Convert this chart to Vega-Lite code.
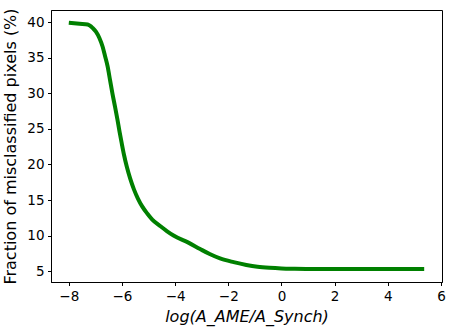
{
  "$schema": "https://vega.github.io/schema/vega-lite/v6.json",
  "width": 391,
  "height": 272,
  "autosize": "none",
  "padding": {"left": 51, "top": 10, "right": 10, "bottom": 53},
  "background": "white",
  "config": {
    "view": {"stroke": "black", "strokeWidth": 1},
    "font": "DejaVu Sans",
    "axis": {
      "grid": false,
      "domainColor": "black",
      "tickColor": "black",
      "tickSize": 3.5,
      "labelPadding": 3.5,
      "labelFont": "DejaVu Sans",
      "labelFontSize": 13.5,
      "labelColor": "black",
      "titleFont": "DejaVu Sans",
      "titleFontSize": 16,
      "titleFontWeight": "normal",
      "titleColor": "black"
    }
  },
  "data": {
    "values": [
      {"x": -8.0, "y": 39.95},
      {"x": -7.6, "y": 39.8},
      {"x": -7.29, "y": 39.7},
      {"x": -7.1, "y": 39.2},
      {"x": -6.98, "y": 38.7},
      {"x": -6.85, "y": 37.8},
      {"x": -6.73, "y": 36.6},
      {"x": -6.64, "y": 35.3},
      {"x": -6.54, "y": 33.8},
      {"x": -6.45, "y": 31.9},
      {"x": -6.36, "y": 30.0},
      {"x": -6.26, "y": 28.1},
      {"x": -6.17, "y": 26.3},
      {"x": -6.09, "y": 24.6},
      {"x": -6.01, "y": 23.0},
      {"x": -5.92, "y": 21.3},
      {"x": -5.82, "y": 19.7},
      {"x": -5.69, "y": 18.0},
      {"x": -5.55, "y": 16.5},
      {"x": -5.4, "y": 15.2},
      {"x": -5.24, "y": 14.1},
      {"x": -5.05, "y": 13.1},
      {"x": -4.86, "y": 12.25},
      {"x": -4.55, "y": 11.3},
      {"x": -4.3, "y": 10.6},
      {"x": -4.06, "y": 10.0},
      {"x": -3.5, "y": 9.0},
      {"x": -3.06, "y": 8.1},
      {"x": -2.7, "y": 7.4},
      {"x": -2.31, "y": 6.78},
      {"x": -1.8, "y": 6.25},
      {"x": -1.32, "y": 5.85},
      {"x": -0.9, "y": 5.6},
      {"x": -0.45, "y": 5.45},
      {"x": 0.0, "y": 5.36},
      {"x": 0.5, "y": 5.32},
      {"x": 1.05, "y": 5.3},
      {"x": 2.0, "y": 5.28},
      {"x": 3.0, "y": 5.28},
      {"x": 4.0, "y": 5.28},
      {"x": 5.37, "y": 5.28}
    ]
  },
  "mark": {"type": "line", "color": "#008000", "strokeWidth": 4, "interpolate": "monotone"},
  "encoding": {
    "x": {
      "field": "x",
      "type": "quantitative",
      "scale": {"domain": [-8.67, 6.04], "nice": false, "zero": false},
      "axis": {
        "values": [-8, -6, -4, -2, 0, 2, 4, 6],
        "labelExpr": "replace(datum.label, '-', '\u2212')",
        "title": "log(A_AME/A_Synch)",
        "titleFontStyle": "italic",
        "titlePadding": 6
      }
    },
    "y": {
      "field": "y",
      "type": "quantitative",
      "scale": {"domain": [3.46, 41.74], "nice": false, "zero": false},
      "axis": {
        "values": [5, 10, 15, 20, 25, 30, 35, 40],
        "title": "Fraction of misclassified pixels (%)",
        "titlePadding": 8
      }
    }
  }
}
